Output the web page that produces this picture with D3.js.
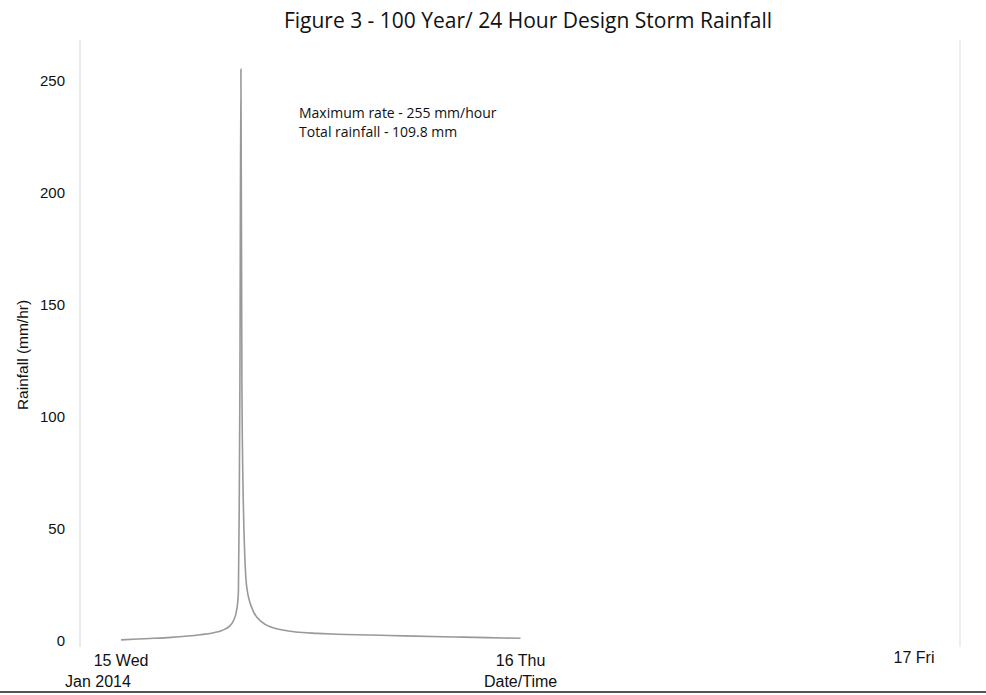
<!DOCTYPE html>
<html>
<head>
<meta charset="utf-8">
<script src="https://cdn.jsdelivr.net/npm/d3@7"></script>
<style>
  body { margin: 0; background: #fff; }
  svg { display: block; }
</style>
</head>
<body>
<svg id="chart" width="986" height="695"></svg>
<script>
// storm hyetograph, hours after 15 Jan 2014 00:00 -> mm/hr
var hours = [0, 1, 2, 3, 4, 4.75, 5.5, 6.1, 6.5, 6.75, 6.95, 7.05, 7.1, 7.14, 7.2, 7.26, 7.35, 7.55, 7.9, 8.45, 9, 9.7, 10.5, 11.8, 13, 15, 17, 20, 22, 24];
var rain  = [0.5, 0.9, 1.2, 1.6, 2.2, 2.8, 3.6, 4.8, 6.5, 9, 14, 22, 60, 115, 255, 115, 60, 24, 14, 8.5, 6.2, 4.9, 4.0, 3.4, 3.0, 2.7, 2.3, 1.8, 1.5, 1.2];
var yTicks = [0, 50, 100, 150, 200, 250];
var dayTicks = ["2014-01-15T00:00", "2014-01-16T00:00", "2014-01-17T00:00"];
var dayLabels = ["15 Wed", "16 Thu", "17 Fri"];
var title = "Figure 3 - 100 Year/ 24 Hour Design Storm Rainfall";
var notes = ["Maximum rate - 255 mm/hour", "Total rainfall - 109.8 mm"];

var svg = d3.select("#chart"),
    plotLeft = 80, plotRight = 960, plotTop = 40, plotBottom = 641;

var start = new Date("2014-01-15T00:00");
var x = d3.scaleTime()
    .domain([new Date("2014-01-14T21:32"), new Date("2014-01-17T02:24")])
    .range([plotLeft, plotRight]);
var y = d3.scaleLinear()
    .domain([0, 268])
    .range([plotBottom, plotTop]);

var data = hours.map(function (h, i) {
  return { t: new Date(start.getTime() + h * 3600000), v: rain[i] };
});

// faint frame lines
svg.append("line").attr("x1", plotLeft).attr("x2", plotLeft).attr("y1", plotTop).attr("y2", plotBottom + 6)
    .attr("stroke", "#e4e4e4").attr("stroke-width", 1.5);
svg.append("line").attr("x1", plotRight).attr("x2", plotRight).attr("y1", plotTop).attr("y2", plotBottom + 6)
    .attr("stroke", "#e8e8e8").attr("stroke-width", 1.5);
svg.append("line").attr("x1", 0).attr("x2", 986).attr("y1", 692).attr("y2", 692)
    .attr("stroke", "#555").attr("stroke-width", 2);

// y axis labels
svg.append("g").selectAll("text").data(yTicks).enter().append("text")
    .attr("x", 65).attr("y", function (d) { return y(d); })
    .attr("dy", "0.35em")
    .attr("text-anchor", "end")
    .attr("font-family", "Liberation Sans, Arial, sans-serif")
    .attr("font-size", 15)
    .attr("fill", "#111")
    .text(function (d) { return d; });

svg.append("text")
    .attr("transform", "translate(28,355) rotate(-90)")
    .attr("text-anchor", "middle")
    .attr("font-family", "Liberation Sans, Arial, sans-serif")
    .attr("font-size", 15.5)
    .attr("fill", "#111")
    .text("Rainfall (mm/hr)");

// x axis labels
var days = dayTicks.map(function (s) { return new Date(s); });
svg.append("g").selectAll("text").data(days).enter().append("text")
    .attr("x", function (d, i) { return x(d) - (i == 2 ? 6 : 0); })
    .attr("y", function (d, i) { return i == 2 ? 663 : 666; })
    .attr("text-anchor", "middle")
    .attr("font-family", "Liberation Sans, Arial, sans-serif")
    .attr("font-size", 16)
    .attr("fill", "#111")
    .text(function (d, i) { return dayLabels[i]; });

svg.append("text")
    .attr("x", 65).attr("y", 687)
    .attr("font-family", "Liberation Sans, Arial, sans-serif")
    .attr("font-size", 16)
    .attr("fill", "#111")
    .text("Jan 2014");

svg.append("text")
    .attr("x", x(days[1])).attr("y", 687)
    .attr("text-anchor", "middle")
    .attr("font-family", "Liberation Sans, Arial, sans-serif")
    .attr("font-size", 16)
    .attr("fill", "#111")
    .text("Date/Time");

// rainfall line
var line = d3.line()
    .x(function (d) { return x(d.t); })
    .y(function (d) { return y(d.v); })
    .curve(d3.curveMonotoneX);

svg.append("path")
    .datum(data)
    .attr("d", line)
    .attr("fill", "none")
    .attr("stroke", "#999")
    .attr("stroke-width", 1.6);

// title and notes
svg.append("text")
    .attr("x", 528).attr("y", 28)
    .attr("text-anchor", "middle")
    .attr("font-family", "Open Sans, sans-serif")
    .attr("font-size", 21)
    .attr("fill", "#111")
    .text(title);

svg.append("g").selectAll("text").data(notes).enter().append("text")
    .attr("x", 299).attr("y", function (d, i) { return 118 + i * 19; })
    .attr("font-family", "Open Sans, sans-serif")
    .attr("font-size", 14)
    .attr("fill", "#111")
    .text(function (d) { return d; });
</script>
</body>
</html>
